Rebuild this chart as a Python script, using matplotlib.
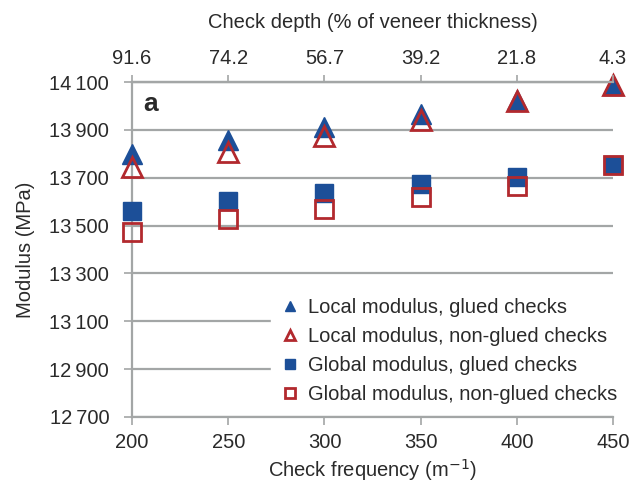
import matplotlib.pyplot as plt
from matplotlib.lines import Line2D
from matplotlib.ticker import FuncFormatter

plt.rcParams['font.family'] = ['Liberation Sans', 'DejaVu Sans']

# Data
frequency = [200, 250, 300, 350, 400, 450]
depth_labels = ['91.6', '74.2', '56.7', '39.2', '21.8', '4.3']
local_glued = [13800, 13858, 13912, 13968, 14025, 14088]
local_nonglued = [13745, 13806, 13874, 13940, 14020, 14086]
global_glued = [13560, 13602, 13636, 13675, 13702, 13755]
global_nonglued = [13475, 13526, 13571, 13618, 13665, 13755]
yticks = [12700, 12900, 13100, 13300, 13500, 13700, 13900, 14100]

blue = '#1c4f98'
red = '#b2292e'
grey = '#a3a6a6'
text_col = '#2a2a2a'
fs = 14.5

fig = plt.figure(figsize=(6.32, 4.86), dpi=100)
ax = fig.add_axes([0.209, 0.142, 0.761, 0.689])

ax.plot(frequency, local_glued, linestyle='none', marker='^', markersize=15,
        color=blue, markeredgecolor=blue, zorder=3, clip_on=False)
ax.plot(frequency, global_glued, linestyle='none', marker='s', markersize=13.5,
        color=blue, markeredgecolor=blue, zorder=3, clip_on=False)
ax.plot(frequency, local_nonglued, linestyle='none', marker='^', markersize=14,
        markerfacecolor='none', markeredgecolor=red, markeredgewidth=2, zorder=4,
        clip_on=False)
ax.plot(frequency, global_nonglued, linestyle='none', marker='s', markersize=13,
        markerfacecolor='none', markeredgecolor=red, markeredgewidth=2, zorder=4,
        clip_on=False)

ax.set_xlim(200, 450)
ax.set_ylim(12700, 14100)
ax.set_xticks(frequency)
ax.set_yticks(yticks)
ax.yaxis.set_major_formatter(FuncFormatter(lambda v, p: f'{int(v):,}'.replace(',', '\u2009')))
ax.grid(True, axis='y', color=grey, linewidth=1.6)
ax.set_axisbelow(True)

ax.spines['right'].set_visible(False)
for side in ['left', 'bottom', 'top']:
    ax.spines[side].set_color(grey)
    ax.spines[side].set_linewidth(1.6)
ax.tick_params(colors=grey, labelcolor=text_col, labelsize=fs, length=5.5, width=1.2)
ax.tick_params(axis='y', pad=11)
ax.tick_params(axis='x', pad=6)

ax.set_xlabel('Check frequency (m$^{-1}$)', fontsize=fs, color=text_col, labelpad=4)
ax.set_ylabel('Modulus (MPa)', fontsize=fs, color=text_col, labelpad=10)

top = ax.twiny()
top.set_xlim(ax.get_xlim())
top.set_xticks(frequency)
top.set_xticklabels(depth_labels)
for side in ['left', 'right', 'bottom']:
    top.spines[side].set_visible(False)
top.spines['top'].set_color(grey)
top.spines['top'].set_linewidth(1.6)
top.tick_params(colors=grey, labelcolor=text_col, labelsize=fs, length=5, width=1.2, pad=5)
top.set_xlabel('Check depth (% of veneer thickness)', fontsize=fs, color=text_col, labelpad=15)

ax.text(0.023, 0.913, 'a', transform=ax.transAxes, fontsize=19, fontweight='bold',
        color=text_col, va='baseline', ha='left')

handles = [
    Line2D([], [], linestyle='none', marker='^', markersize=7.5, color=blue),
    Line2D([], [], linestyle='none', marker='^', markersize=7.5, markerfacecolor='none',
           markeredgecolor=red, markeredgewidth=2),
    Line2D([], [], linestyle='none', marker='s', markersize=7, color=blue),
    Line2D([], [], linestyle='none', marker='s', markersize=7, markerfacecolor='none',
           markeredgecolor=red, markeredgewidth=2),
]
labels = ['Local modulus, glued checks', 'Local modulus, non-glued checks',
          'Global modulus, glued checks', 'Global modulus, non-glued checks']
leg = ax.legend(handles, labels, loc='lower right', bbox_to_anchor=(625 / 632, 74 / 486),
                bbox_transform=fig.transFigure,
                frameon=True, fancybox=False, edgecolor='white', facecolor='white',
                framealpha=1, fontsize=fs, handlelength=1.0, handletextpad=0.4,
                labelspacing=0.5, borderpad=0.4, borderaxespad=0)
leg.set_zorder(5)
for t in leg.get_texts():
    t.set_color(text_col)

fig.savefig('out.png', dpi=100)
